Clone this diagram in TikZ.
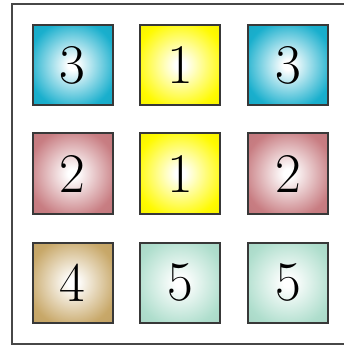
\documentclass[tikz,border=0pt]{standalone}
\pgfdeclareradialshading[tilecol]{tileshade}{\pgfpoint{0bp}{0bp}}{color(0bp)=(white); color(3bp)=(white); color(28bp)=(tilecol); color(50bp)=(tilecol!90!black)}
\begin{document}
\begin{tikzpicture}[x=1pt,y=-1pt]
\definecolor{cA}{RGB}{25,175,205}
\definecolor{cB}{RGB}{200,125,130}
\definecolor{cC}{RGB}{255,250,0}
\definecolor{cD}{RGB}{200,168,105}
\definecolor{cE}{RGB}{175,222,205}
\tikzset{
  tile/.style={draw=black!78, line width=2pt, minimum size=80pt, inner sep=0pt,
    /utils/exec={\colorlet{tilecol}{#1}}, shading=tileshade,
    font=\fontsize{56}{60}\selectfont},
  frame/.style={draw=black!72, line width=1.8pt}
}
\useasboundingbox (0,0) rectangle (343,347);
\draw[frame] (12,4) rectangle (350,344);
\node[tile=cA] (a1) at (72.5,65) {3};
\node[tile=cC] (a2) at (180,65) {1};
\node[tile=cA] (a3) at (288,65) {3};
\node[tile=cB] (b1) at (72.5,173.5) {2};
\node[tile=cC] (b2) at (180,173.5) {1};
\node[tile=cB] (b3) at (288,173.5) {2};
\node[tile=cD] (c1) at (72.5,282.5) {4};
\node[tile=cE] (c2) at (180,282.5) {5};
\node[tile=cE] (c3) at (288,282.5) {5};
\end{tikzpicture}
\end{document}
